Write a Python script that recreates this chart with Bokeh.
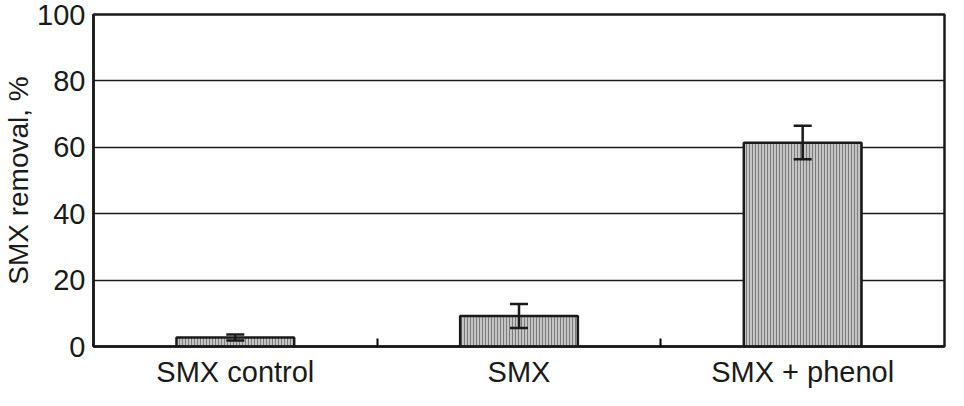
from bokeh.embed import file_html
from bokeh.resources import INLINE
from bokeh.models import ColumnDataSource, Whisker, FixedTicker, Range1d
from bokeh.plotting import figure

categories = ["SMX control", "SMX", "SMX + phenol"]
removal = [2.7, 9.2, 61.4]
err_low = [1.8, 5.6, 56.4]
err_high = [3.6, 12.8, 66.5]
y_ticks = [0, 20, 40, 60, 80, 100]

xpos = [i + 0.5 for i in range(len(categories))]
src = ColumnDataSource(data=dict(x=xpos, top=removal, lower=err_low, upper=err_high))

FONT = "Liberation Sans"

p = figure(width=948, height=390, x_range=Range1d(0, 3), y_range=Range1d(0, 100),
           output_backend="svg", toolbar_location=None,
           min_border_top=14, min_border_right=4, min_border_bottom=0, min_border_left=0)

p.vbar(x="x", top="top", width=0.415, source=src, fill_color="#c4c4c4",
       line_color="#1a1a1a", line_width=2.5,
       hatch_pattern="vertical_line", hatch_color="#7c7c7c", hatch_scale=3, hatch_weight=1)

w = Whisker(base="x", lower="lower", upper="upper", source=src, line_width=2.5,
            line_color="#1a1a1a", level="overlay")
for head in (w.upper_head, w.lower_head):
    head.size = 18
    head.line_width = 2.5
    head.line_color = "#1a1a1a"
p.add_layout(w)

# x axis: labels at centres, small inward ticks between categories
p.xaxis.ticker = FixedTicker(ticks=xpos, minor_ticks=[1, 2])
p.xaxis.major_label_overrides = {x: c for x, c in zip(xpos, categories)}
p.xaxis.major_tick_line_color = None
p.xaxis.minor_tick_in = 8
p.xaxis.minor_tick_out = 0
p.xaxis.minor_tick_line_width = 2
p.xaxis.major_label_standoff = 3

p.yaxis.ticker = FixedTicker(ticks=y_ticks)
p.yaxis.major_tick_line_color = None
p.yaxis.minor_tick_line_color = None
p.yaxis.axis_label = "SMX removal, %"
p.yaxis.axis_label_standoff = 0
p.yaxis.major_label_standoff = 2

for ax in [p.xaxis[0], p.yaxis[0]]:
    ax.axis_line_width = 2.5
    ax.axis_line_color = "#1a1a1a"
    ax.major_label_text_font = FONT
    ax.major_label_text_font_size = "29px"
    ax.major_label_text_color = "#1a1a1a"
    ax.axis_label_text_font = FONT
    ax.axis_label_text_font_size = "28px"
    ax.axis_label_text_font_style = "normal"
    ax.axis_label_text_color = "#1a1a1a"
p.xaxis.major_label_text_font_size = "29px"

p.xgrid.grid_line_color = None
p.ygrid.ticker = FixedTicker(ticks=y_ticks)
p.ygrid.grid_line_color = "#1a1a1a"
p.ygrid.grid_line_width = 1.5

p.outline_line_color = "#1a1a1a"
p.outline_line_width = 2.5
p.outline_line_alpha = 1

open("out.html", "w").write(file_html(p, INLINE))
